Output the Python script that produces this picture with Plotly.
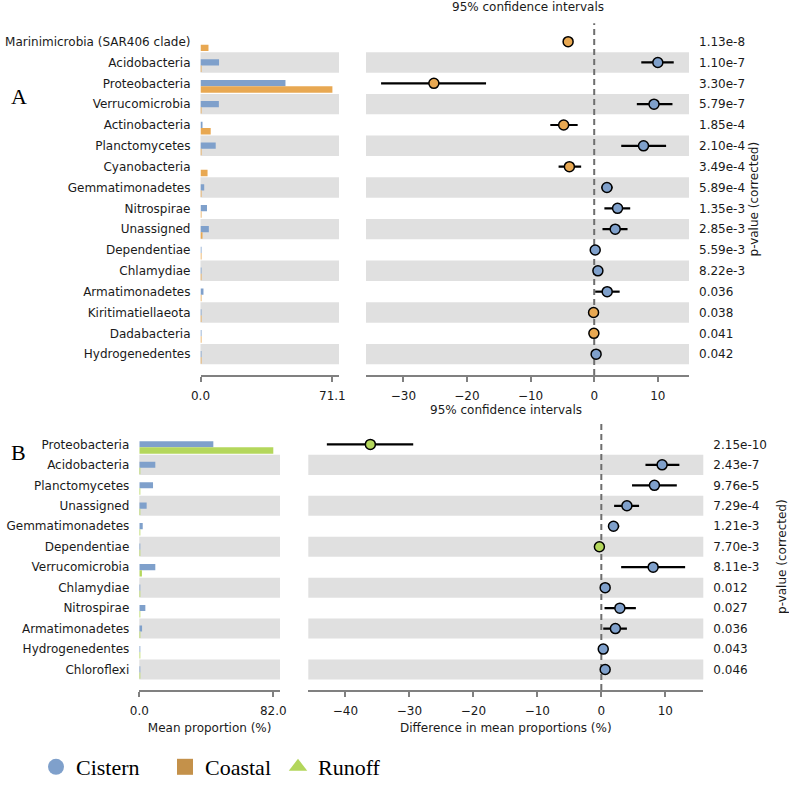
import plotly.graph_objects as go

# ---------------- data: panel A (Cistern vs Coastal) ----------------
cats_A = ["Marinimicrobia (SAR406 clade)", "Acidobacteria", "Proteobacteria", "Verrucomicrobia",
          "Actinobacteria", "Planctomycetes", "Cyanobacteria", "Gemmatimonadetes", "Nitrospirae",
          "Unassigned", "Dependentiae", "Chlamydiae", "Armatimonadetes", "Kiritimatiellaeota",
          "Dadabacteria", "Hydrogenedentes"]
cistern_A = [0.0, 10.0, 45.8, 9.9, 0.6, 8.2, 0.0, 2.0, 3.5, 4.5, 0.2, 0.3, 1.6, 0.05, 0.03, 0.2]
coastal_A = [4.3, 0.3, 71.1, 0.5, 5.5, 0.5, 3.8, 0.1, 0.1, 0.8, 0.02, 0.05, 0.05, 0.3, 0.08, 0.02]
diff_A = [-4.1, 10.0, -25.2, 9.4, -4.8, 7.75, -3.9, 2.0, 3.67, 3.3, 0.16, 0.58, 2.04, -0.1, -0.05, 0.3]
lo_A = [-4.8, 7.4, -33.5, 6.7, -6.9, 4.25, -5.6, 1.1, 1.6, 1.3, 0.0, 0.2, 0.16, -0.3, -0.15, 0.05]
hi_A = [-3.4, 12.5, -17.0, 12.3, -2.6, 11.3, -2.05, 2.9, 5.66, 5.24, 0.32, 0.95, 4.0, 0.1, 0.05, 0.55]
pvals_A = ["1.13e-8", "1.10e-7", "3.30e-7", "5.79e-7", "1.85e-4", "2.10e-4", "3.49e-4", "5.89e-4",
           "1.35e-3", "2.85e-3", "5.59e-3", "8.22e-3", "0.036", "0.038", "0.041", "0.042"]
max_A = "71.1"
ci_ticks_A = [-30, -20, -10, 0, 10]

# ---------------- data: panel B (Cistern vs Runoff) ----------------
cats_B = ["Proteobacteria", "Acidobacteria", "Planctomycetes", "Unassigned", "Gemmatimonadetes",
          "Dependentiae", "Verrucomicrobia", "Chlamydiae", "Nitrospirae", "Armatimonadetes",
          "Hydrogenedentes", "Chloroflexi"]
cistern_B = [45.3, 9.8, 8.4, 4.5, 2.1, 0.1, 9.8, 0.6, 3.7, 1.7, 0.3, 0.4]
runoff_B = [82.0, 0.5, 0.3, 0.3, 0.2, 0.4, 1.6, 0.05, 0.6, 0.05, 0.02, 0.02]
diff_B = [-36.1, 9.5, 8.3, 4.0, 1.9, -0.3, 8.1, 0.6, 2.9, 2.2, 0.3, 0.6]
lo_B = [-42.9, 6.9, 4.8, 2.0, 1.1, -0.5, 3.1, 0.3, 0.5, 0.3, 0.1, 0.3]
hi_B = [-29.4, 12.2, 11.8, 5.9, 2.8, -0.1, 13.1, 0.9, 5.4, 4.0, 0.5, 0.9]
pvals_B = ["2.15e-10", "2.43e-7", "9.76e-5", "7.29e-4", "1.21e-3", "7.70e-3", "8.11e-3", "0.012",
           "0.027", "0.036", "0.043", "0.046"]
max_B = "82.0"
ci_ticks_B = [-40, -30, -20, -10, 0, 10]

groups = ["Cistern", "Coastal", "Runoff"]

# ---------------- styles ----------------
BLUE = "#7FA0CB"
ORANGE = "#E8A852"
GREEN = "#B4D75C"
LEG_COLORS = {"Cistern": "#7FA0CB", "Coastal": "#C4914A", "Runoff": "#B3D65B"}
LEG_SYMBOLS = {"Cistern": "circle", "Coastal": "square", "Runoff": "triangle-up"}
LEG_X = {"Cistern": 36, "Coastal": 165, "Runoff": 278}
BAND = "#E0E0E0"
SPINE = "#808080"
TXT = "#1A1A1A"
FONT = "DejaVu Sans"
W, H = 789, 788


def px_x(a, b):
    return [a / W, b / W]


def px_y(top, bottom):
    return [1 - bottom / H, 1 - top / H]


def minus(v):
    return str(v).replace("-", "\u2212")


fig = go.Figure()


def add_panel(cats, g1, g2, c2, diff, lo, hi, xa_bar, ya_bar, xa_ci, ya_ci):
    rows = list(range(len(cats)))
    fig.add_trace(go.Bar(x=g1, y=rows, orientation="h", offset=-0.155, width=0.3,
                         marker=dict(color=BLUE, line=dict(width=0)),
                         xaxis=xa_bar, yaxis=ya_bar, showlegend=False, hoverinfo="skip"))
    fig.add_trace(go.Bar(x=g2, y=rows, orientation="h", offset=0.145, width=0.31,
                         marker=dict(color=c2, line=dict(width=0)),
                         xaxis=xa_bar, yaxis=ya_bar, showlegend=False, hoverinfo="skip"))
    colors = [BLUE if d > 0 else c2 for d in diff]
    fig.add_trace(go.Scatter(
        x=diff, y=rows, mode="markers", xaxis=xa_ci, yaxis=ya_ci, showlegend=False,
        marker=dict(color=colors, size=10, line=dict(color="black", width=1.5)),
        error_x=dict(type="data", symmetric=False,
                     array=[h - d for h, d in zip(hi, diff)],
                     arrayminus=[d - l for d, l in zip(diff, lo)],
                     color="black", thickness=2.2, width=0),
        hoverinfo="skip"))
    for i in rows:
        if i % 2 == 1:
            for xa, ya in ((xa_bar, ya_bar), (xa_ci, ya_ci)):
                fig.add_shape(type="rect", xref=f"{xa} domain", yref=ya, x0=0, x1=1,
                              y0=i - 0.49, y1=i + 0.49, fillcolor=BAND, line=dict(width=0),
                              layer="below")
    fig.add_shape(type="line", xref=xa_ci, yref=f"{ya_ci} domain", x0=0, x1=0, y0=0, y1=1,
                  line=dict(color="#6E6E6E", width=2, dash="6px,4px"), layer="below")


add_panel(cats_A, cistern_A, coastal_A, ORANGE, diff_A, lo_A, hi_A, "x", "y", "x2", "y2")
add_panel(cats_B, cistern_B, runoff_B, GREEN, diff_B, lo_B, hi_B, "x3", "y3", "x4", "y4")

legend_names = ["legend", "legend2", "legend3"]
legend_layouts = {}
for g, ln in zip(groups, legend_names):
    fig.add_trace(go.Scatter(x=[None], y=[None], mode="markers", name=g, xaxis="x", yaxis="y",
                             marker=dict(color=LEG_COLORS[g], symbol=LEG_SYMBOLS[g], size=16,
                                         line=dict(width=0)),
                             showlegend=True, legend=ln))
    legend_layouts[ln] = dict(orientation="h", x=LEG_X[g] / W, xanchor="left",
                              y=0, yanchor="bottom",
                              font=dict(family="Liberation Serif", size=22, color="black"),
                              bgcolor="rgba(0,0,0,0)", itemsizing="trace")

axis_font = dict(family=FONT, size=12, color=TXT)
common_x = dict(showgrid=False, zeroline=False, showline=True, linecolor=SPINE, linewidth=1.5,
                ticks="outside", ticklen=5, tickwidth=1.5, tickcolor=SPINE, tickfont=axis_font,
                automargin=False, ticklabelstandoff=4)
common_y = dict(showgrid=False, zeroline=False, showline=False, ticks="", tickfont=axis_font,
                automargin=False, ticklabelstandoff=9)

dom_top = px_y(23.3, 375)
dom_bot = px_y(423.3, 690)

rows_A = list(range(len(cats_A)))
rows_B = list(range(len(cats_B)))

fig.update_layout(
    width=W, height=H, margin=dict(l=0, r=0, t=0, b=0),
    paper_bgcolor="white", plot_bgcolor="rgba(0,0,0,0)",
    barmode="overlay", font=dict(family=FONT, size=12, color=TXT),
    xaxis=dict(common_x, domain=px_x(200.5, 339), range=[0, float(max_A) * 1.05], anchor="y",
               tickvals=[0, float(max_A)], ticktext=["0.0", max_A]),
    yaxis=dict(common_y, domain=dom_top, range=[16.0, -0.88], anchor="x",
               tickvals=rows_A, ticktext=cats_A),
    xaxis2=dict(common_x, domain=px_x(366, 689), range=[-35.87, 14.9], anchor="y2",
                tickvals=ci_ticks_A, ticktext=[minus(v) for v in ci_ticks_A]),
    yaxis2=dict(common_y, domain=dom_top, range=[16.0, -0.88], anchor="x2", side="right",
                tickvals=rows_A, ticktext=pvals_A,
                title=dict(text="p-value (corrected)", font=axis_font, standoff=5)),
    xaxis3=dict(common_x, domain=px_x(139.3, 280), range=[0, float(max_B) * 1.05], anchor="y3",
                tickvals=[0, float(max_B)], ticktext=["0.0", max_B],
                title=dict(text="Mean proportion (%)", font=axis_font, standoff=6)),
    yaxis3=dict(common_y, domain=dom_bot, range=[12.0, -1.03], anchor="x3",
                tickvals=rows_B, ticktext=cats_B),
    xaxis4=dict(common_x, domain=px_x(308.3, 703.3), range=[-45.8, 15.94], anchor="y4",
                tickvals=ci_ticks_B, ticktext=[minus(v) for v in ci_ticks_B],
                title=dict(text="Difference in mean proportions (%)", font=axis_font, standoff=6)),
    yaxis4=dict(common_y, domain=dom_bot, range=[12.0, -1.03], anchor="x4", side="right",
                tickvals=rows_B, ticktext=pvals_B,
                title=dict(text="p-value (corrected)", font=axis_font, standoff=11)),
    showlegend=True,
    annotations=[
        dict(text="95% confidence intervals", xref="x2 domain", yref="paper", x=0.5,
             y=1 - 7 / H, xanchor="center", yanchor="middle", showarrow=False, font=axis_font),
        dict(text="95% confidence intervals", xref="x4 domain", yref="paper", x=0.5,
             y=1 - 410 / H, xanchor="center", yanchor="middle", showarrow=False, font=axis_font),
        dict(text="A", xref="paper", yref="paper", x=18.8 / W, y=1 - 97 / H, xanchor="center",
             yanchor="middle", showarrow=False,
             font=dict(family="Liberation Serif", size=22, color="black")),
        dict(text="B", xref="paper", yref="paper", x=18.3 / W, y=1 - 452 / H, xanchor="center",
             yanchor="middle", showarrow=False,
             font=dict(family="Liberation Serif", size=22, color="black")),
    ],
)
fig.update_layout(**legend_layouts)

fig.write_html("out.html", config={"displayModeBar": False},
               post_script="document.body.style.margin='0px';")
